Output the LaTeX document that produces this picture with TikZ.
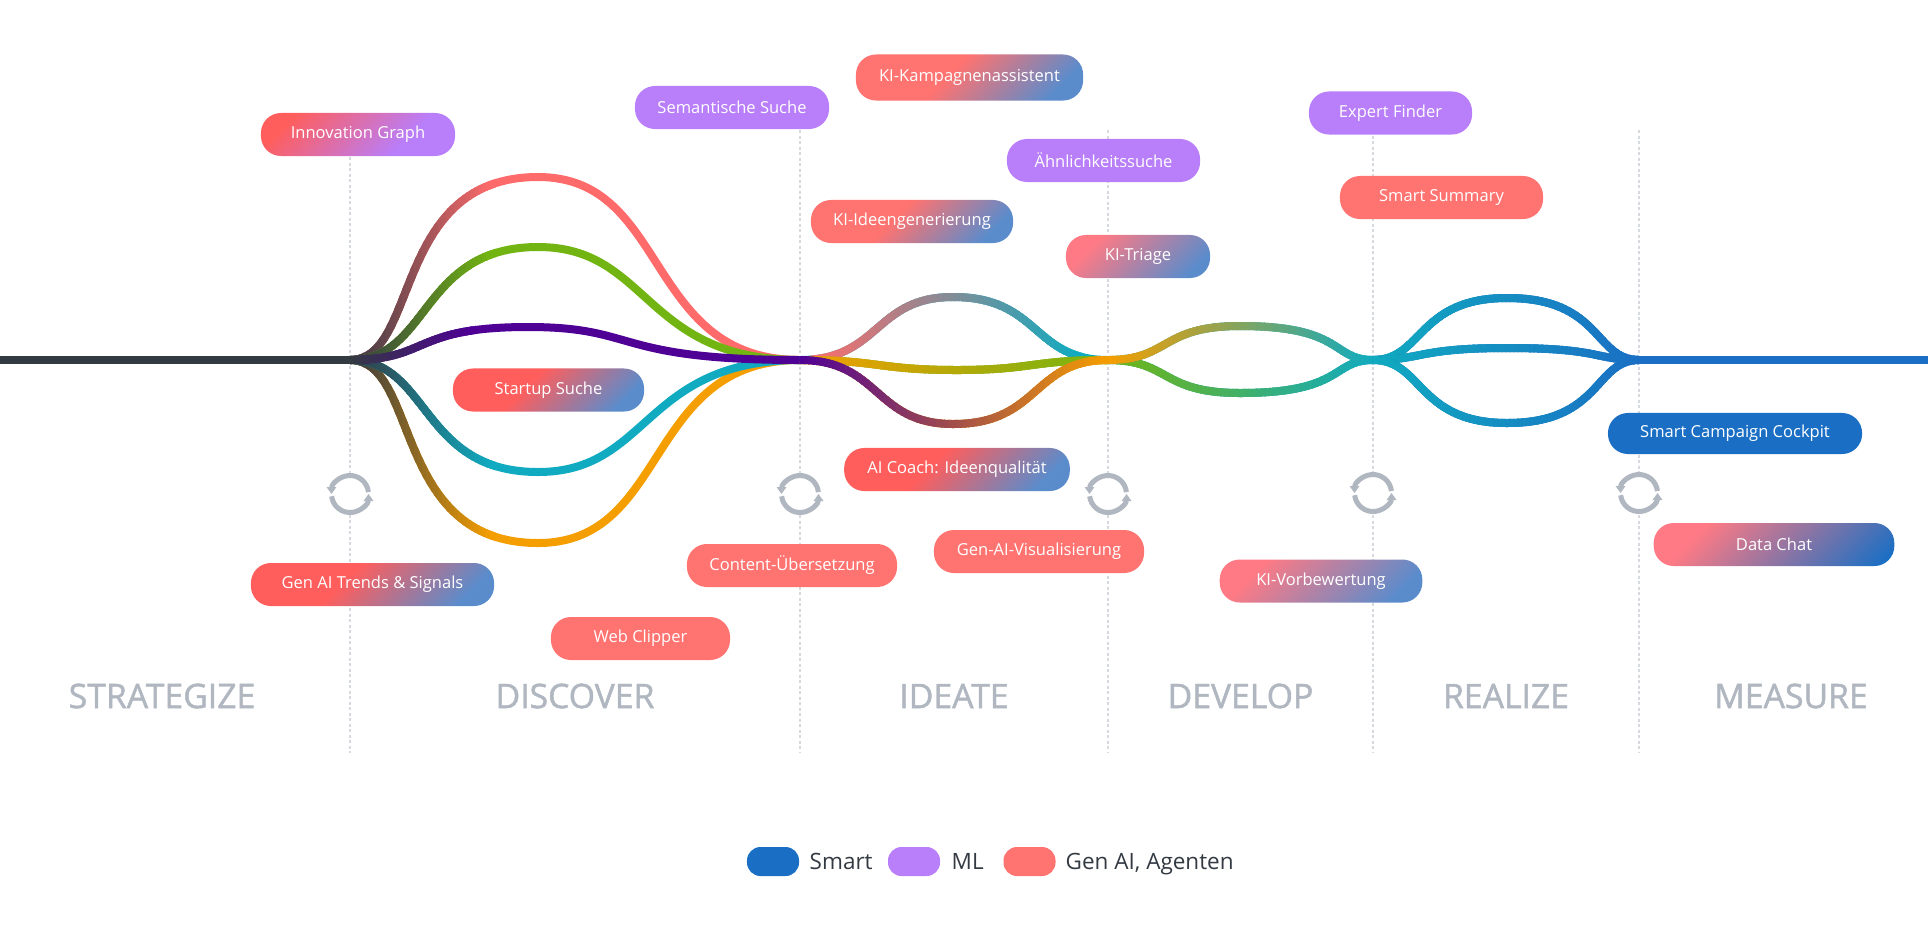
\documentclass[tikz,border=0pt]{standalone}
\usepackage{fontspec}
\setmainfont{Open Sans}
\newfontfamily\stagefont{Open Sans}[FakeBold=1.4]
\usepackage{tikz}
\usetikzlibrary{arrows.meta}

\definecolor{darkline}{HTML}{333A42}
\definecolor{smartblue}{HTML}{1A6FC4}
\definecolor{mlpurple}{HTML}{B97EFA}
\definecolor{gensalmon}{HTML}{FF7370}
\definecolor{genred}{HTML}{FF5E5C}
\definecolor{genpink}{HTML}{FF7A84}
\definecolor{softblue}{HTML}{5A8CCC}
\definecolor{curvered}{HTML}{FF6B6B}
\definecolor{curvegreen}{HTML}{72B512}
\definecolor{curvepurple}{HTML}{4F0095}
\definecolor{curveteal}{HTML}{10ABC0}
\definecolor{curveorange}{HTML}{F59E00}
\definecolor{stagegray}{HTML}{B0B7C0}
\definecolor{dashgray}{HTML}{D6D9DD}

\pgfdeclarehorizontalshading{redblue}{100bp}{color(0bp)=(genred); color(42bp)=(genred); color(76bp)=(softblue); color(100bp)=(softblue)}
\pgfdeclarehorizontalshading{salmonblue}{100bp}{color(0bp)=(gensalmon); color(44bp)=(gensalmon); color(76bp)=(softblue); color(100bp)=(softblue)}
\pgfdeclarehorizontalshading{pinkblue}{100bp}{color(0bp)=(genpink); color(28bp)=(genpink); color(76bp)=(softblue); color(100bp)=(softblue)}
\pgfdeclarehorizontalshading{pinkdeep}{100bp}{color(0bp)=(genpink); color(28bp)=(genpink); color(82bp)=(smartblue); color(100bp)=(smartblue)}
\pgfdeclarehorizontalshading{redpurple}{100bp}{color(0bp)=(genred); color(25bp)=(genred); color(66bp)=(mlpurple); color(100bp)=(mlpurple)}

\tikzset{
    pill/.style={rounded corners=.2cm,minimum height=.43cm,inner sep=0pt,text=white,font=\fontsize{4.7}{6}\selectfont},
    smartpill/.style={pill,fill=smartblue},
    mlpill/.style={pill,fill=mlpurple},
    genpill/.style={pill,fill=gensalmon},
    mixpill/.style={pill,shade,shading=#1,shading angle=-45},
    flow/.style={line width=.08cm,line cap=butt},
    stage/.style={text=stagegray,font=\fontsize{9.6}{11}\selectfont\stagefont},
    legendtext/.style={text=darkline,anchor=base west,inner sep=0pt,font=\fontsize{6.4}{8}\selectfont},
    legendblob/.style={rounded corners=.135cm,minimum width=.52cm,minimum height=.29cm,inner sep=0pt},
    guideline/.style={draw=dashgray,line width=.012cm,dash pattern=on .03cm off .025cm},
    refreshring/.style={draw=stagegray,line width=.05cm,-{Triangle[length=.07cm,width=.095cm]}}
}

% path, first colour, last colour, x where it starts, x where it ends
\newcommand{\gradflow}[5]{
    \draw[flow,draw=#3] #1;
    \pgfmathtruncatemacro{\stripcount}{(#5-#4)/4}
    \foreach \strip in {0,...,\stripcount}{
        \pgfmathsetmacro{\stripx}{#4+4*\strip}
        \pgfmathsetmacro{\stripend}{\stripx+6}
        \pgfmathtruncatemacro{\strippct}{100-100*\strip/\stripcount}
        \begin{scope}
            \clip (\stripx,0) rectangle (\stripend,927);
            \draw[flow,draw=#2!\strippct!#3] #1;
        \end{scope}
    }
}

\begin{document}
\begin{tikzpicture}[x=.01cm,y=-.01cm]
    \useasboundingbox (0,0) rectangle (1928,927);

    \coordinate (leftend) at (0,360);
    \coordinate (rightend) at (1928,360);
    \coordinate (j1) at (350,360);
    \coordinate (j2) at (800,360);
    \coordinate (j3) at (1108,360);
    \coordinate (j4) at (1373,360);
    \coordinate (j5) at (1639,360);

    \coordinate (g1t) at (350,113);
    \coordinate (g2t) at (800,130);
    \coordinate (g3t) at (1108,130);
    \coordinate (g4t) at (1373,130);
    \coordinate (g5t) at (1639,130);
    \coordinate (g1b) at (350,753);
    \coordinate (g2b) at (800,753);
    \coordinate (g3b) at (1108,753);
    \coordinate (g4b) at (1373,753);
    \coordinate (g5b) at (1639,753);

    \foreach \g in {1,...,5}{
        \draw[guideline] (g\g t) -- (g\g b);
    }

    % refresh icons
    \foreach \g/\gy in {1/494,2/494,3/494,4/493,5/493}{
        \node[circle,fill=white,minimum size=.42cm,inner sep=0pt] (refresh\g) at (g\g t |- 0,\gy) {};
        \draw[refreshring] (refresh\g.center) ++(6:.185cm) arc[start angle=6,end angle=180,radius=.185cm];
        \draw[refreshring] (refresh\g.center) ++(187:.185cm) arc[start angle=187,end angle=360,radius=.185cm];
    }

    % discover
    \coordinate (redtop) at (538,177);
    \coordinate (greentop) at (538,247);
    \coordinate (purpletop) at (528,327);
    \coordinate (tealtop) at (538,472);
    \coordinate (orangetop) at (538,543);
    \gradflow{(j1) .. controls (420,360) and (391,177) .. (redtop) .. controls (670,177) and (644,360) .. (j2)}{darkline}{curvered}{350}{490}
    \gradflow{(j1) .. controls (420,360) and (391,543) .. (orangetop) .. controls (670,543) and (644,360) .. (j2)}{darkline}{curveorange}{350}{490}
    \gradflow{(j1) .. controls (430,360) and (420,247) .. (greentop) .. controls (650,247) and (643,360) .. (j2)}{darkline}{curvegreen}{350}{490}
    \gradflow{(j1) .. controls (430,360) and (420,472) .. (tealtop) .. controls (650,472) and (643,360) .. (j2)}{darkline}{curveteal}{350}{490}
    \gradflow{(j1) .. controls (430,360) and (411,327) .. (purpletop) .. controls (640,327) and (611,360) .. (j2)}{darkline}{curvepurple}{350}{470}
    \draw[flow,draw=darkline] (leftend) -- (j1);

    % ideate
    \coordinate (ideatetop) at (953,297);
    \coordinate (ideatemid) at (957,370);
    \coordinate (ideatebot) at (953,424);
    \gradflow{(j2) .. controls (880,360) and (874,297) .. (ideatetop) .. controls (1040,297) and (1032,360) .. (j3)}{curvered}{curveteal}{810}{1080}
    \gradflow{(j2) .. controls (880,360) and (878,370) .. (ideatemid) .. controls (1032,370) and (1032,360) .. (j3)}{curveorange}{curvegreen}{800}{1108}
    \gradflow{(j2) .. controls (880,360) and (874,424) .. (ideatebot) .. controls (1040,424) and (1032,360) .. (j3)}{curvepurple}{curveorange}{800}{1108}

    % develop
    \coordinate (developtop) at (1240,326);
    \coordinate (developbot) at (1240,393);
    \gradflow{(j3) .. controls (1170,360) and (1160,393) .. (developbot) .. controls (1345,393) and (1331,360) .. (j4)}{curvegreen}{curveteal}{1108}{1373}
    \gradflow{(j3) .. controls (1170,360) and (1160,326) .. (developtop) .. controls (1345,326) and (1331,360) .. (j4)}{curveorange}{curveteal}{1108}{1373}

    % realize
    \coordinate (realizetop) at (1507,298);
    \coordinate (realizemid) at (1507,348);
    \coordinate (realizebot) at (1507,423);
    \gradflow{(j4) .. controls (1423,360) and (1417,298) .. (realizetop) .. controls (1602,298) and (1594,360) .. (j5)}{curveteal}{smartblue}{1373}{1639}
    \gradflow{(j4) .. controls (1423,360) and (1417,348) .. (realizemid) .. controls (1602,348) and (1594,360) .. (j5)}{curveteal}{smartblue}{1373}{1639}
    \gradflow{(j4) .. controls (1423,360) and (1417,423) .. (realizebot) .. controls (1602,423) and (1594,360) .. (j5)}{curveteal}{smartblue}{1373}{1639}
    \draw[flow,draw=smartblue] (j5) -- (rightend);

    % pills above
    \node[mixpill=redpurple,minimum width=1.94cm] (innograph) at (358,134.5) {Innovation Graph};
    \node[mlpill,minimum width=1.94cm] (semsuche) at (732,107.5) {Semantische Suche};
    \node[mixpill=salmonblue,minimum width=2.27cm,minimum height=.46cm] (kampagne) at (969.5,77.5) {KI-Kampagnenassistent};
    \node[mixpill=salmonblue,minimum width=2.02cm] (ideengen) at (912,221.5) {KI-Ideengenerierung};
    \node[mlpill,minimum width=1.93cm] (aehnlich) at (1103.5,160.5) {Ähnlichkeitssuche};
    \node[mixpill=pinkblue,minimum width=1.44cm] (triage) at (1138,256.5) {KI-Triage};
    \node[mlpill,minimum width=1.63cm] (expert) at (1390.5,113) {Expert Finder};
    \node[genpill,minimum width=2.03cm] (summary) at (1441.5,197.5) {Smart Summary};

    % pills below
    \node[mixpill=redblue,minimum width=1.91cm] (startup) at (548.5,390) {Startup Suche};
    \node[smartpill,minimum width=2.54cm,minimum height=.41cm] (cockpit) at (1735,433.5) {Smart Campaign Cockpit};
    \node[mixpill=redblue,minimum width=2.255cm] (coach) at (957,469.5) {AI Coach: Ideenqualität};
    \node[genpill,minimum width=2.1cm] (visual) at (1039,551.5) {Gen-AI-Visualisierung};
    \node[genpill,minimum width=2.1cm] (content) at (792,565.5) {Content-Übersetzung};
    \node[mixpill=redblue,minimum width=2.43cm] (trends) at (372.5,584.5) {Gen AI Trends \& Signals};
    \node[genpill,minimum width=1.79cm] (clipper) at (640.5,638.5) {Web Clipper};
    \node[mixpill=pinkblue,minimum width=2.025cm] (vorbew) at (1321,581) {KI-Vorbewertung};
    \node[mixpill=pinkdeep,minimum width=2.405cm] (datachat) at (1774,544.5) {Data Chat};

    % stages
    \node[stage] (strategize) at (162,696) {STRATEGIZE};
    \node[stage] (discover) at (575,696) {DISCOVER};
    \node[stage] (ideate) at (954,696) {IDEATE};
    \node[stage] (develop) at (1240.5,696) {DEVELOP};
    \node[stage] (realize) at (1506,696) {REALIZE};
    \node[stage] (measure) at (1791,696) {MEASURE};

    % legend
    \node[legendblob,fill=smartblue] (legsmart) at (773,861.5) {};
    \node[legendtext] (legsmarttext) at (809,869) {Smart};
    \node[legendblob,fill=mlpurple] (legml) at (914,861.5) {};
    \node[legendtext] (legmltext) at (951,869) {ML};
    \node[legendblob,fill=gensalmon] (leggen) at (1029.5,861.5) {};
    \node[legendtext] (leggentext) at (1065,869) {Gen AI, Agenten};
\end{tikzpicture}
\end{document}
